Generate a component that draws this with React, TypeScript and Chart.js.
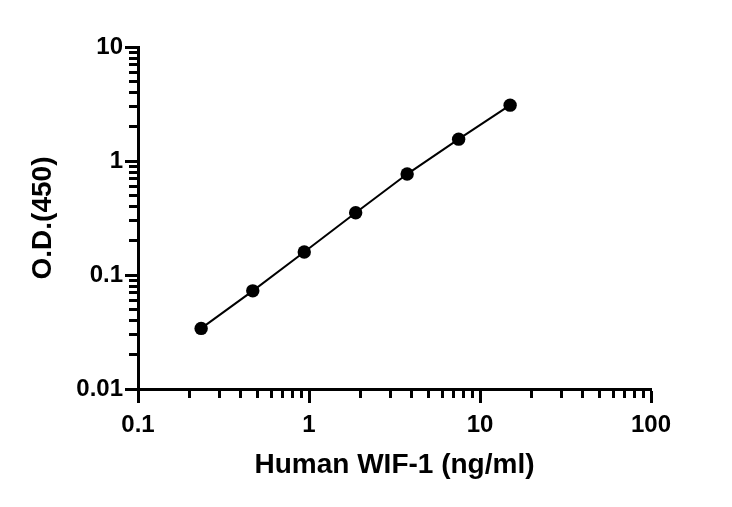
import React, { useEffect, useRef } from "react";
import { Chart, registerables, ChartConfiguration } from "chart.js";

Chart.register(...registerables);

// WIF-1 standard curve (log-log)
const concentrations = [0.234, 0.469, 0.938, 1.875, 3.75, 7.5, 15];
const odValues = [0.034, 0.0726, 0.159, 0.352, 0.768, 1.555, 3.09];

const xMajorTicks = [0.1, 1, 10, 100];
const xTickLabels = ["0.1", "1", "10", "100"];
const yMajorTicks = [0.01, 0.1, 1, 10];
const yTickLabels = ["0.01", "0.1", "1", "10"];
const minorSteps = [2, 3, 4, 5, 6, 7, 8, 9];

const xTitle = "Human WIF-1 (ng/ml)";
const yTitle = "O.D.(450)";

const minorsFor = (majors: number[]) =>
  majors.slice(0, -1).flatMap((m) => minorSteps.map((s) => +(m * s).toPrecision(3)));

const tickFont = { family: "Liberation Sans", weight: "bold" as const, size: 24 };
const titleFont = { family: "Liberation Sans", weight: "bold" as const, size: 28 };

// grid settings for a tick-only axis (no lines in the plot area)
const tickGrid = (len: number) => ({
  drawOnChartArea: false,
  tickLength: len,
  tickWidth: 3,
  tickColor: "#000",
});

const App: React.FC = () => {
  const canvasRef = useRef<HTMLCanvasElement>(null);
  const chartRef = useRef<Chart | null>(null);

  useEffect(() => {
    if (!canvasRef.current) return;

    const config: ChartConfiguration<"scatter"> = {
      type: "scatter",
      data: {
        datasets: [
          {
            data: concentrations.map((c, i) => ({ x: c, y: odValues[i] })),
            showLine: true,
            borderColor: "#000",
            borderWidth: 2,
            backgroundColor: "#000",
            pointRadius: 6.7,
            pointBorderWidth: 0,
          },
        ],
      },
      options: {
        animation: false,
        responsive: true,
        maintainAspectRatio: false,
        layout: { padding: { top: 47, right: 81, left: 0, bottom: 0 } },
        plugins: { legend: { display: false }, tooltip: { enabled: false } },
        scales: {
          x: {
            type: "logarithmic",
            position: "bottom",
            min: 0.1,
            max: 100,
            afterBuildTicks: (scale) => {
              scale.ticks = xMajorTicks.map((v) => ({ value: v }));
            },
            afterFit: (scale) => {
              scale.height = 118;
            },
            ticks: {
              autoSkip: false,
              maxRotation: 0,
              minRotation: 0,
              padding: 8,
              color: "#000",
              font: tickFont,
              callback: (_v, i) => xTickLabels[i],
            },
            grid: tickGrid(14),
            border: { display: true, color: "#000", width: 3 },
            title: {
              display: true,
              text: xTitle,
              color: "#000",
              font: titleFont,
              padding: { top: 0, bottom: 25 },
            },
          },
          y: {
            type: "logarithmic",
            position: "left",
            min: 0.01,
            max: 10,
            afterBuildTicks: (scale) => {
              scale.ticks = yMajorTicks.map((v) => ({ value: v }));
            },
            afterFit: (scale) => {
              scale.width = 138;
            },
            ticks: {
              autoSkip: false,
              padding: 2,
              color: "#000",
              font: tickFont,
              callback: (_v, i) => yTickLabels[i],
            },
            grid: tickGrid(13),
            border: { display: true, color: "#000", width: 3 },
            title: {
              display: true,
              text: yTitle,
              color: "#000",
              font: titleFont,
              padding: { top: 26, bottom: 0 },
            },
          },
          // minor tick marks, drawn by extra axes sitting on the main axis lines
          xMinor: {
            type: "logarithmic",
            axis: "x",
            position: { y: 0.01 },
            min: 0.1,
            max: 100,
            afterBuildTicks: (scale) => {
              scale.ticks = minorsFor(xMajorTicks).map((v) => ({ value: v }));
            },
            ticks: { display: false },
            grid: tickGrid(9),
            border: { display: false },
          },
          yMinor: {
            type: "logarithmic",
            axis: "y",
            position: { x: 0.1 },
            min: 0.01,
            max: 10,
            afterBuildTicks: (scale) => {
              scale.ticks = minorsFor(yMajorTicks).map((v) => ({ value: v }));
            },
            ticks: { display: false },
            grid: tickGrid(9),
            border: { display: false },
          },
        } as any,
      },
    };

    if (chartRef.current) chartRef.current.destroy();
    const ctx = canvasRef.current.getContext("2d");
    if (ctx) chartRef.current = new Chart(ctx, config);

    return () => {
      if (chartRef.current) {
        chartRef.current.destroy();
        chartRef.current = null;
      }
    };
  }, []);

  return (
    <div
      style={{
        position: "absolute",
        left: 0,
        top: 0,
        width: 732,
        height: 507,
        background: "#fff",
      }}
    >
      <canvas ref={canvasRef}></canvas>
    </div>
  );
};

export default App;
